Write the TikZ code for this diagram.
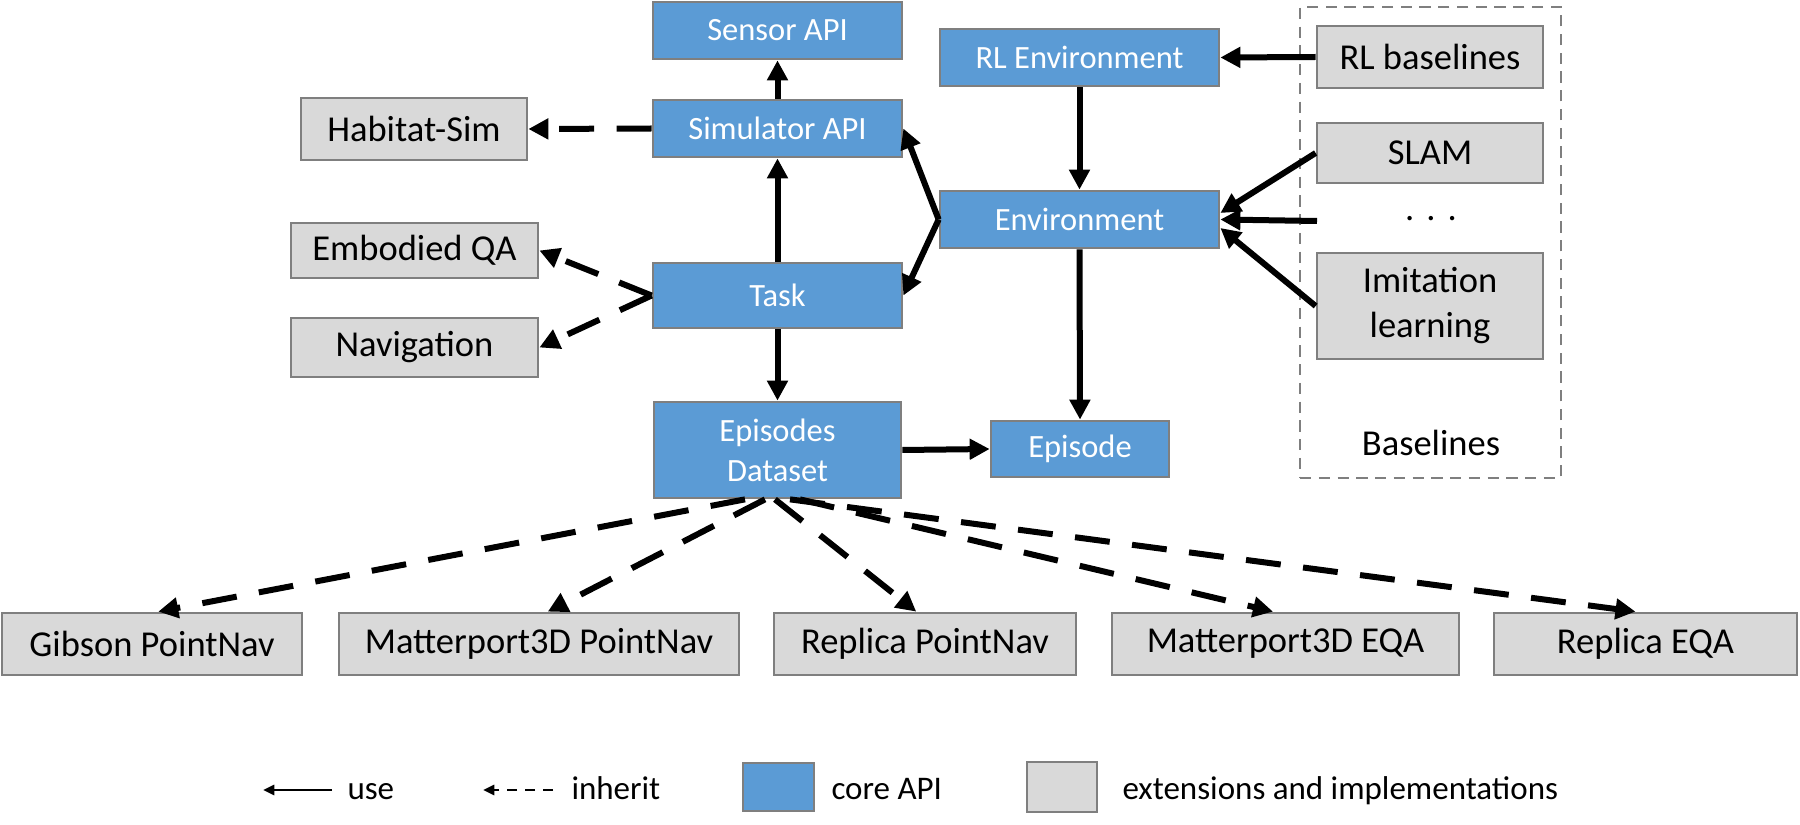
\documentclass[tikz,border=0pt]{standalone}
\usepackage{fontspec}
\setmainfont{Carlito}
\usetikzlibrary{arrows.meta}
\definecolor{coreblue}{HTML}{5B9BD5}
\definecolor{bordergray}{HTML}{7F7F7F}
\definecolor{extgray}{HTML}{D9D9D9}
\begin{document}
\begin{tikzpicture}[x=0.4pt,y=-0.4pt,
  sz/.style 2 args={minimum width=#1*0.4pt, minimum height=#2*0.4pt},
  core/.style={draw=bordergray, line width=1.1pt, fill=coreblue, text=white, inner sep=0pt, align=center, font=\fontsize{13}{16}\selectfont},
  ext/.style={draw=bordergray, line width=1.1pt, fill=extgray, text=black, inner sep=0pt, align=center, font=\fontsize{14.6}{18}\selectfont},
  usearrow/.style={line width=2.4pt, -{Triangle[length=8pt,width=8pt]}},
  inharrow/.style={line width=2.4pt, dash pattern=on 14pt off 9pt, -{Triangle[length=8pt,width=8pt]}},
  legtext/.style={anchor=base west, inner sep=0pt, font=\fontsize{13.2}{16}\selectfont},
]
\useasboundingbox (0,0) rectangle (1800,825);
\fill[white] (0,0) rectangle (1800,825);

% baselines container
\node[draw=bordergray, line width=0.9pt, dash pattern=on 4.5pt off 3pt, sz={261}{471}] (basebox) at (1430.5,242.5) {};
\node[font=\fontsize{14.6}{18}\selectfont, inner sep=0pt] (baselbl) at (1431,443) {Baselines};

% core nodes
\node[core, sz={249}{57}] (sensor) at (777.5,30.5) {Sensor API};
\node[core, sz={249}{57}] (sim) at (777.5,128.5) {Simulator API};
\node[core, sz={249}{65}] (task) at (777.5,295.5) {Task};
\node[core, sz={247}{96}] (dataset) at (777.5,450) {Episodes\\Dataset};
\node[core, sz={279}{57}] (rlenv) at (1079.5,57.5) {RL Environment};
\node[core, sz={279}{57}] (env) at (1079.5,219.5) {Environment};
\node[core, sz={178}{56}] (episode) at (1080,449) {Episode};

% extension nodes
\node[ext, sz={226}{62}] (habitat) at (414,129) {Habitat-Sim};
\node[ext, sz={247}{55}] (eqa) at (414.5,250.5) {Embodied QA};
\node[ext, sz={247}{59}] (nav) at (414.5,347.5) {Navigation};
\node[ext, sz={226}{62}] (rlbase) at (1430,57) {RL baselines};
\node[ext, sz={226}{60}] (slam) at (1430,153) {SLAM};
\node[ext, sz={226}{106}, font=\fontsize{14.6}{18}\selectfont] (imit) at (1430,306) {Imitation\\learning};
\node[font=\fontsize{14.6}{18}\selectfont, anchor=base, inner sep=0pt] (dots) at (1431,221) {.\,\,.\,\,.};
\coordinate (dotsend) at (1317,221);

\node[ext, sz={300}{62}] (gibson) at (152,644) {Gibson PointNav};
\node[ext, sz={400}{62}] (mpn) at (539,644) {Matterport3D PointNav};
\node[ext, sz={302}{62}] (rpn) at (925,644) {Replica PointNav};
\node[ext, sz={347}{62}] (meqa) at (1285.5,644) {Matterport3D EQA};
\node[ext, sz={303}{62}] (reqa) at (1645.5,644) {Replica EQA};

% use connectors
\draw[usearrow] (sim.north) -- (sensor.south);
\draw[usearrow] (task.north) -- (sim.south);
\draw[usearrow] (task.south) -- (dataset.north);
\draw[usearrow] (env.west) -- (sim.east);
\draw[usearrow] (env.west) -- (task.east);
\draw[usearrow] (rlbase.west) -- (rlenv.east);
\draw[usearrow] (rlenv.south) -- (env.north);
\draw[usearrow] (env.south) -- (episode.north);
\draw[usearrow] (dataset.east) -- (episode.west);
\draw[usearrow] (slam.west) -- ([yshift=2.6pt]env.east);
\draw[usearrow] (dotsend) -- (env.east);
\draw[usearrow] (imit.west) -- ([yshift=-3.4pt]env.east);

% inherit connectors
\draw[inharrow] (sim.west) -- (habitat.east);
\draw[inharrow] (task.west) -- (eqa.east);
\draw[inharrow] (task.west) -- (nav.east);
\draw[inharrow] ([xshift=-13pt]dataset.south) -- ([xshift=2.5pt]gibson.north);
\draw[inharrow] ([xshift=-5pt]dataset.south) -- ([xshift=3.5pt]mpn.north);
\draw[inharrow] ([xshift=-1pt]dataset.south) -- ([xshift=-3.5pt]rpn.north);
\draw[inharrow] ([xshift=9pt]dataset.south) -- ([xshift=-5pt]meqa.north);
\draw[inharrow] ([xshift=5pt]dataset.south) -- ([xshift=-4pt]reqa.north);

% legend
\coordinate (usestart) at (332,790);
\coordinate (useend) at (263,790);
\draw[line width=1.1pt, -{Triangle[length=4.5pt,width=4pt]}] (usestart) -- (useend);
\node[legtext] (uselbl) at (347,799) {use};
\coordinate (inhstart) at (553,790);
\coordinate (inhend) at (483,790);
\draw[line width=1.1pt, dash pattern=on 4pt off 3.2pt, -{Triangle[length=4.5pt,width=4pt]}] (inhstart) -- (inhend);
\node[legtext] (inhlbl) at (571,799) {inherit};
\node[core, sz={71}{48}] (legcore) at (778.5,787) {};
\node[legtext] (corelbl) at (831,799) {core API};
\node[ext, sz={70}{50}] (legext) at (1062,787) {};
\node[legtext] (extlbl) at (1122,799) {extensions and implementations};
\end{tikzpicture}
\end{document}
